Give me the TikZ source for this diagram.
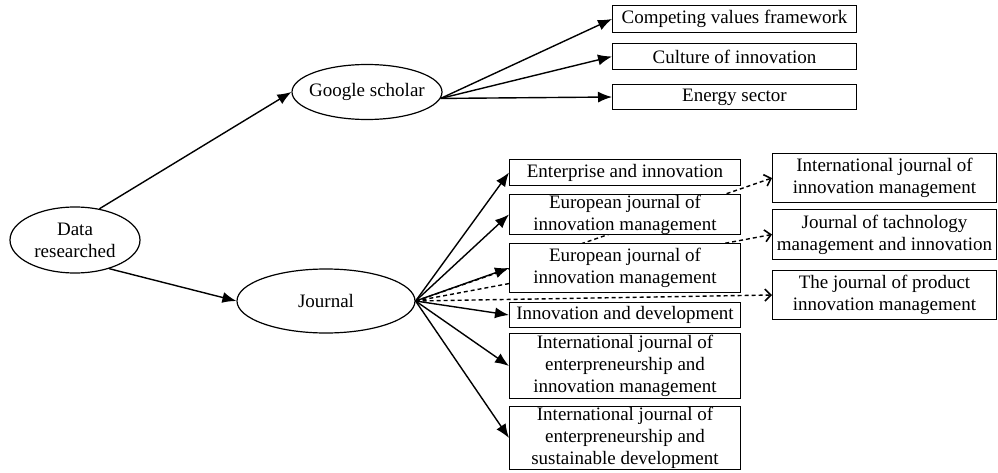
\documentclass[tikz,border=0pt]{standalone}
\usepackage{fontspec}
\setmainfont{Liberation Serif}
\usetikzlibrary{arrows.meta}
\usetikzlibrary{positioning}
\usetikzlibrary{shapes.geometric}
\usetikzlibrary{backgrounds}

\tikzset{
  oval/.style={ellipse, draw, line width=1.2pt, inner sep=0pt, align=center},
  box/.style={draw, line width=1.4pt, fill=white, inner sep=0pt, align=center},
  arr/.style={line width=1.4pt, -{Latex[length=14pt,width=11pt]}},
  darr/.style={line width=1.4pt, dash pattern=on 4pt off 3pt,
    -{Straight Barb[length=6pt,width=12pt,line width=1.6pt]}},
}

\begin{document}
\begin{tikzpicture}[x=1pt,y=1pt,font=\fontsize{19}{22}\selectfont]
        \useasboundingbox (0,0) rectangle (998,472);

        \node[oval, minimum width=130pt, minimum height=66pt] (d) at (75,232) {Data\\researched};
        \node[oval, inner xsep=-10pt, minimum width=150pt, minimum height=55pt] (g) at (367,380) {Google scholar};
        \node[oval, minimum width=178pt, minimum height=64pt] (j) at (326,171) {Journal};

        \node[box, minimum width=243.6pt, minimum height=26.6pt] (c1) at (734.5,453) {Competing values framework};
        \node[box, minimum width=243.6pt, minimum height=25.6pt, below=10pt of c1] (c2) {Culture of innovation};
        \node[box, minimum width=243.6pt, minimum height=24.6pt, below=14pt of c2] (c3) {Energy sector};

        \node[box, minimum width=230.6pt, minimum height=25.6pt] (m1) at (625,299.5) {Enterprise and innovation};
        \node[box, minimum width=230.6pt, minimum height=39.6pt, below=8pt of m1] (m2) {European journal of\\innovation management};
        \node[box, minimum width=230.6pt, minimum height=48.6pt, below=8pt of m2] (m3) {European journal of\\innovation management};
        \node[box, minimum width=230.6pt, minimum height=24.6pt, below=9pt of m3] (m4) {Innovation and development};
        \node[box, minimum width=230.6pt, minimum height=64.6pt, below=5pt of m4] (m5) {International journal of\\enterpreneurship and\\innovation management};
        \node[box, minimum width=230.6pt, minimum height=62.6pt, below=7pt of m5] (m6) {International journal of\\enterpreneurship and\\sustainable development};

        \node[box, minimum width=223.6pt, minimum height=48.6pt] (r1) at (884.5,294) {International journal of\\innovation management};
        \node[box, minimum width=223.6pt, minimum height=49.6pt, below=6pt of r1] (r2) {Journal of tachnology\\management and innovation};
        \node[box, minimum width=223.6pt, minimum height=48.6pt, below=10pt of r2] (r3) {The journal of product\\innovation management};

        \draw[arr] (d.52) -- (g.west);
        \draw[arr] (d.-40) -- (j.west);
        \foreach \n in {c1,c2,c3}
          \draw[arr] (g.-5) -- (\n.west);
        \foreach \n in {m1,m2,m3,m4,m5,m6}
          \draw[arr] (j.east) -- (\n.west);
        \begin{scope}[on background layer]
          \foreach \n in {r1,r2,r3}
            \draw[darr] (j.east) -- (\n.west);
        \end{scope}
      \end{tikzpicture}
\end{document}
